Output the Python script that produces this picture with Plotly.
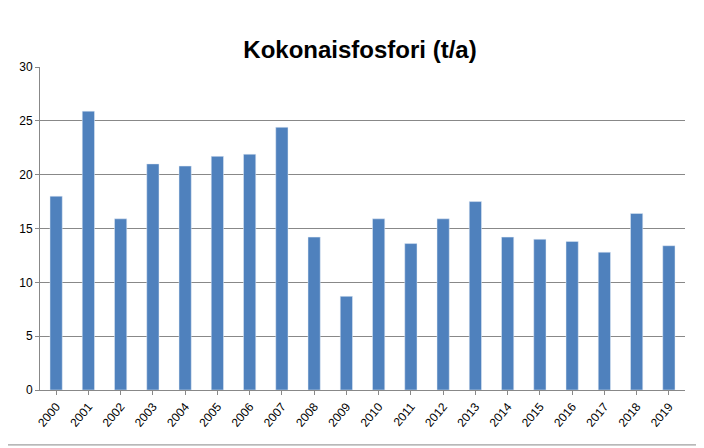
import plotly.graph_objects as go

years = [str(y) for y in range(2000, 2020)]
values = [18.0, 25.9, 15.9, 21.0, 20.8, 21.7, 21.9, 24.4, 14.2, 8.7,
          15.9, 13.6, 15.9, 17.5, 14.2, 14.0, 13.8, 12.8, 16.4, 13.4]

fig = go.Figure(go.Bar(x=years, y=values, marker_color='#4f81bd', width=0.38))

fig.update_layout(
    width=704, height=448,
    margin=dict(l=32, r=27, t=59, b=66),
    paper_bgcolor='white', plot_bgcolor='white',
    font=dict(family='Liberation Sans, Arial', size=12, color='black'),
    title=dict(text='<b>Kokonaisfosfori (t/a)</b>', x=0.5, xanchor='center',
               y=0.925, font=dict(size=24)),
    showlegend=False,
    shapes=[dict(type='rect', xref='paper', yref='paper', x0=-0.056, x1=1.023,
                 y0=-0.170, y1=1.198, line=dict(color='#888888', width=1))],
)
fig.update_xaxes(tickangle=-50, showline=True, linecolor='#888888',
                 ticks='outside', tickcolor='#888888', ticklen=4)
fig.update_yaxes(range=[0, 30], dtick=5, showgrid=True, gridcolor='#888888',
                 showline=True, linecolor='#888888', ticks='outside',
                 tickcolor='#888888', ticklen=4, zeroline=False)

fig.write_html('out.html')
